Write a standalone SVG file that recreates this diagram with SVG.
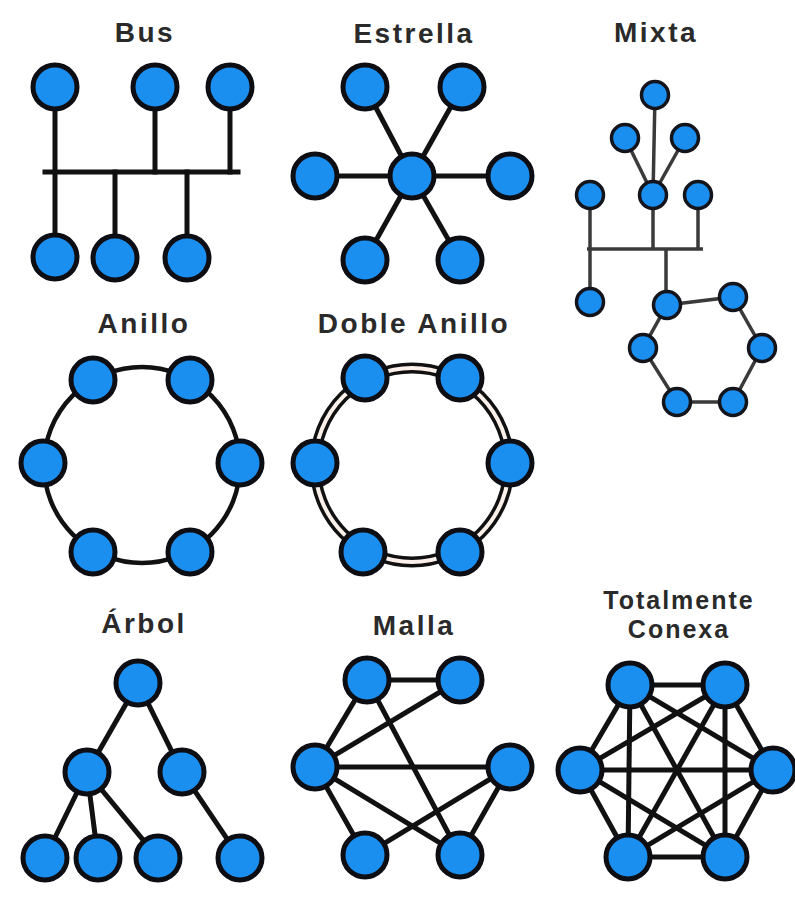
<svg xmlns="http://www.w3.org/2000/svg" width="795" height="899" viewBox="0 0 795 899">
<style>
.t{font-family:"Liberation Sans",Arial,sans-serif;font-weight:bold;font-size:28px;fill:#2a2a2a;text-anchor:middle;letter-spacing:2.5px}
.t2{font-size:25px;letter-spacing:2px}
.n circle{fill:#1b8ff0;stroke:#0d0d14;stroke-width:5}
.s circle{fill:#1b8ff0;stroke:#14141c;stroke-width:3.5}
.e{stroke:#111;stroke-width:5;fill:none;stroke-linecap:square}
.m{stroke:#3a3a3a;stroke-width:3.5;fill:none}
</style>
<rect width="795" height="899" fill="#fff"/>
<g id="connectors">
<!-- Bus -->
<g class="e">
<line x1="45" y1="172" x2="238" y2="172"/>
<line x1="55" y1="87" x2="55" y2="257"/>
<line x1="155" y1="87" x2="155" y2="172"/>
<line x1="230" y1="87" x2="230" y2="172"/>
<line x1="115" y1="172" x2="115" y2="258"/>
<line x1="187" y1="172" x2="187" y2="258"/>
</g>
<!-- Estrella -->
<g class="e">
<line x1="412" y1="176" x2="365" y2="87"/>
<line x1="412" y1="176" x2="462" y2="87"/>
<line x1="412" y1="176" x2="315" y2="176"/>
<line x1="412" y1="176" x2="510" y2="176"/>
<line x1="412" y1="176" x2="365" y2="260"/>
<line x1="412" y1="176" x2="460" y2="260"/>
</g>
<!-- Mixta -->
<g class="m">
<line x1="655" y1="95" x2="653" y2="195"/>
<line x1="625" y1="138" x2="653" y2="195"/>
<line x1="685" y1="138" x2="653" y2="195"/>
<line x1="587" y1="249" x2="703" y2="249"/>
<line x1="590" y1="195" x2="590" y2="302"/>
<line x1="653" y1="195" x2="653" y2="249"/>
<line x1="698" y1="195" x2="698" y2="249"/>
<line x1="666" y1="249" x2="666" y2="305"/>
<polygon points="667,305 733,297 762,348 733,402 677,402 643,348"/>
</g>
<!-- Anillo -->
<circle cx="142" cy="465" r="98" fill="none" stroke="#111" stroke-width="4.5"/>
<!-- Doble Anillo -->
<circle cx="412" cy="465" r="97" fill="none" stroke="#111" stroke-width="11"/>
<circle cx="412" cy="465" r="97" fill="none" stroke="#fbf0ea" stroke-width="4"/>
<!-- Arbol -->
<g class="e">
<line x1="138" y1="683" x2="87" y2="772"/>
<line x1="138" y1="683" x2="182" y2="772"/>
<line x1="87" y1="772" x2="45" y2="858"/>
<line x1="87" y1="772" x2="98" y2="858"/>
<line x1="87" y1="772" x2="158" y2="858"/>
<line x1="182" y1="772" x2="240" y2="858"/>
</g>
<!-- Malla -->
<g class="e">
<line x1="367" y1="680" x2="460" y2="680"/>
<line x1="367" y1="680" x2="315" y2="767"/>
<line x1="460" y1="680" x2="315" y2="767"/>
<line x1="315" y1="767" x2="510" y2="767"/>
<line x1="315" y1="767" x2="365" y2="855"/>
<line x1="315" y1="767" x2="460" y2="855"/>
<line x1="367" y1="680" x2="460" y2="855"/>
<line x1="510" y1="767" x2="365" y2="855"/>
<line x1="510" y1="767" x2="460" y2="855"/>
</g>
<!-- Totalmente Conexa -->
<g class="e">
<line x1="630" y1="685" x2="725" y2="685"/>
<line x1="630" y1="685" x2="580" y2="770"/>
<line x1="630" y1="685" x2="773" y2="770"/>
<line x1="630" y1="685" x2="628" y2="857"/>
<line x1="630" y1="685" x2="725" y2="857"/>
<line x1="725" y1="685" x2="580" y2="770"/>
<line x1="725" y1="685" x2="773" y2="770"/>
<line x1="725" y1="685" x2="628" y2="857"/>
<line x1="725" y1="685" x2="725" y2="857"/>
<line x1="580" y1="770" x2="773" y2="770"/>
<line x1="580" y1="770" x2="628" y2="857"/>
<line x1="580" y1="770" x2="725" y2="857"/>
<line x1="773" y1="770" x2="628" y2="857"/>
<line x1="773" y1="770" x2="725" y2="857"/>
<line x1="628" y1="857" x2="725" y2="857"/>
</g>
</g>
<g id="titles">
<text class="t" x="145" y="42">Bus</text>
<text class="t" x="414" y="43">Estrella</text>
<text class="t" x="656" y="42">Mixta</text>
<text class="t" x="144" y="333">Anillo</text>
<text class="t" x="414" y="333">Doble Anillo</text>
<text class="t" x="144" y="633">Árbol</text>
<text class="t" x="414" y="635">Malla</text>
<text class="t t2" x="679" y="609">Totalmente</text>
<text class="t t2" x="679" y="638">Conexa</text>
</g>
<g id="bus" class="n">
<circle cx="55" cy="87" r="22"/><circle cx="155" cy="87" r="22"/><circle cx="230" cy="87" r="22"/>
<circle cx="55" cy="257" r="22"/><circle cx="115" cy="258" r="22"/><circle cx="187" cy="258" r="22"/>
</g>
<g id="estrella" class="n">
<circle cx="412" cy="176" r="22"/>
<circle cx="365" cy="87" r="22"/><circle cx="462" cy="87" r="22"/>
<circle cx="315" cy="176" r="22"/><circle cx="510" cy="176" r="22"/>
<circle cx="365" cy="260" r="22"/><circle cx="460" cy="260" r="22"/>
</g>
<g id="mixta" class="s">
<circle cx="655" cy="95" r="13.5"/>
<circle cx="625" cy="138" r="13.5"/><circle cx="685" cy="138" r="13.5"/>
<circle cx="590" cy="195" r="13.5"/><circle cx="653" cy="195" r="13.5"/><circle cx="698" cy="195" r="13.5"/>
<circle cx="590" cy="302" r="13.5"/>
<circle cx="667" cy="305" r="13.5"/><circle cx="733" cy="297" r="13.5"/><circle cx="762" cy="348" r="13.5"/>
<circle cx="733" cy="402" r="13.5"/><circle cx="677" cy="402" r="13.5"/><circle cx="643" cy="348" r="13.5"/>
</g>
<g id="anillo" class="n">
<circle cx="93" cy="380" r="22"/><circle cx="190" cy="380" r="22"/><circle cx="240" cy="463" r="22"/>
<circle cx="190" cy="552" r="22"/><circle cx="93" cy="552" r="22"/><circle cx="43" cy="463" r="22"/>
</g>
<g id="doble-anillo" class="n">
<circle cx="365" cy="378" r="22"/><circle cx="460" cy="378" r="22"/><circle cx="510" cy="463" r="22"/>
<circle cx="460" cy="552" r="22"/><circle cx="363" cy="552" r="22"/><circle cx="315" cy="463" r="22"/>
</g>
<g id="arbol" class="n">
<circle cx="138" cy="683" r="22"/>
<circle cx="87" cy="772" r="22"/><circle cx="182" cy="772" r="22"/>
<circle cx="45" cy="858" r="22"/><circle cx="98" cy="858" r="22"/><circle cx="158" cy="858" r="22"/><circle cx="240" cy="858" r="22"/>
</g>
<g id="malla" class="n">
<circle cx="367" cy="680" r="22"/><circle cx="460" cy="680" r="22"/>
<circle cx="315" cy="767" r="22"/><circle cx="510" cy="767" r="22"/>
<circle cx="365" cy="855" r="22"/><circle cx="460" cy="855" r="22"/>
</g>
<g id="totalmente-conexa" class="n">
<circle cx="630" cy="685" r="22"/><circle cx="725" cy="685" r="22"/>
<circle cx="580" cy="770" r="22"/><circle cx="773" cy="770" r="22"/>
<circle cx="628" cy="857" r="22"/><circle cx="725" cy="857" r="22"/>
</g>
</svg>
